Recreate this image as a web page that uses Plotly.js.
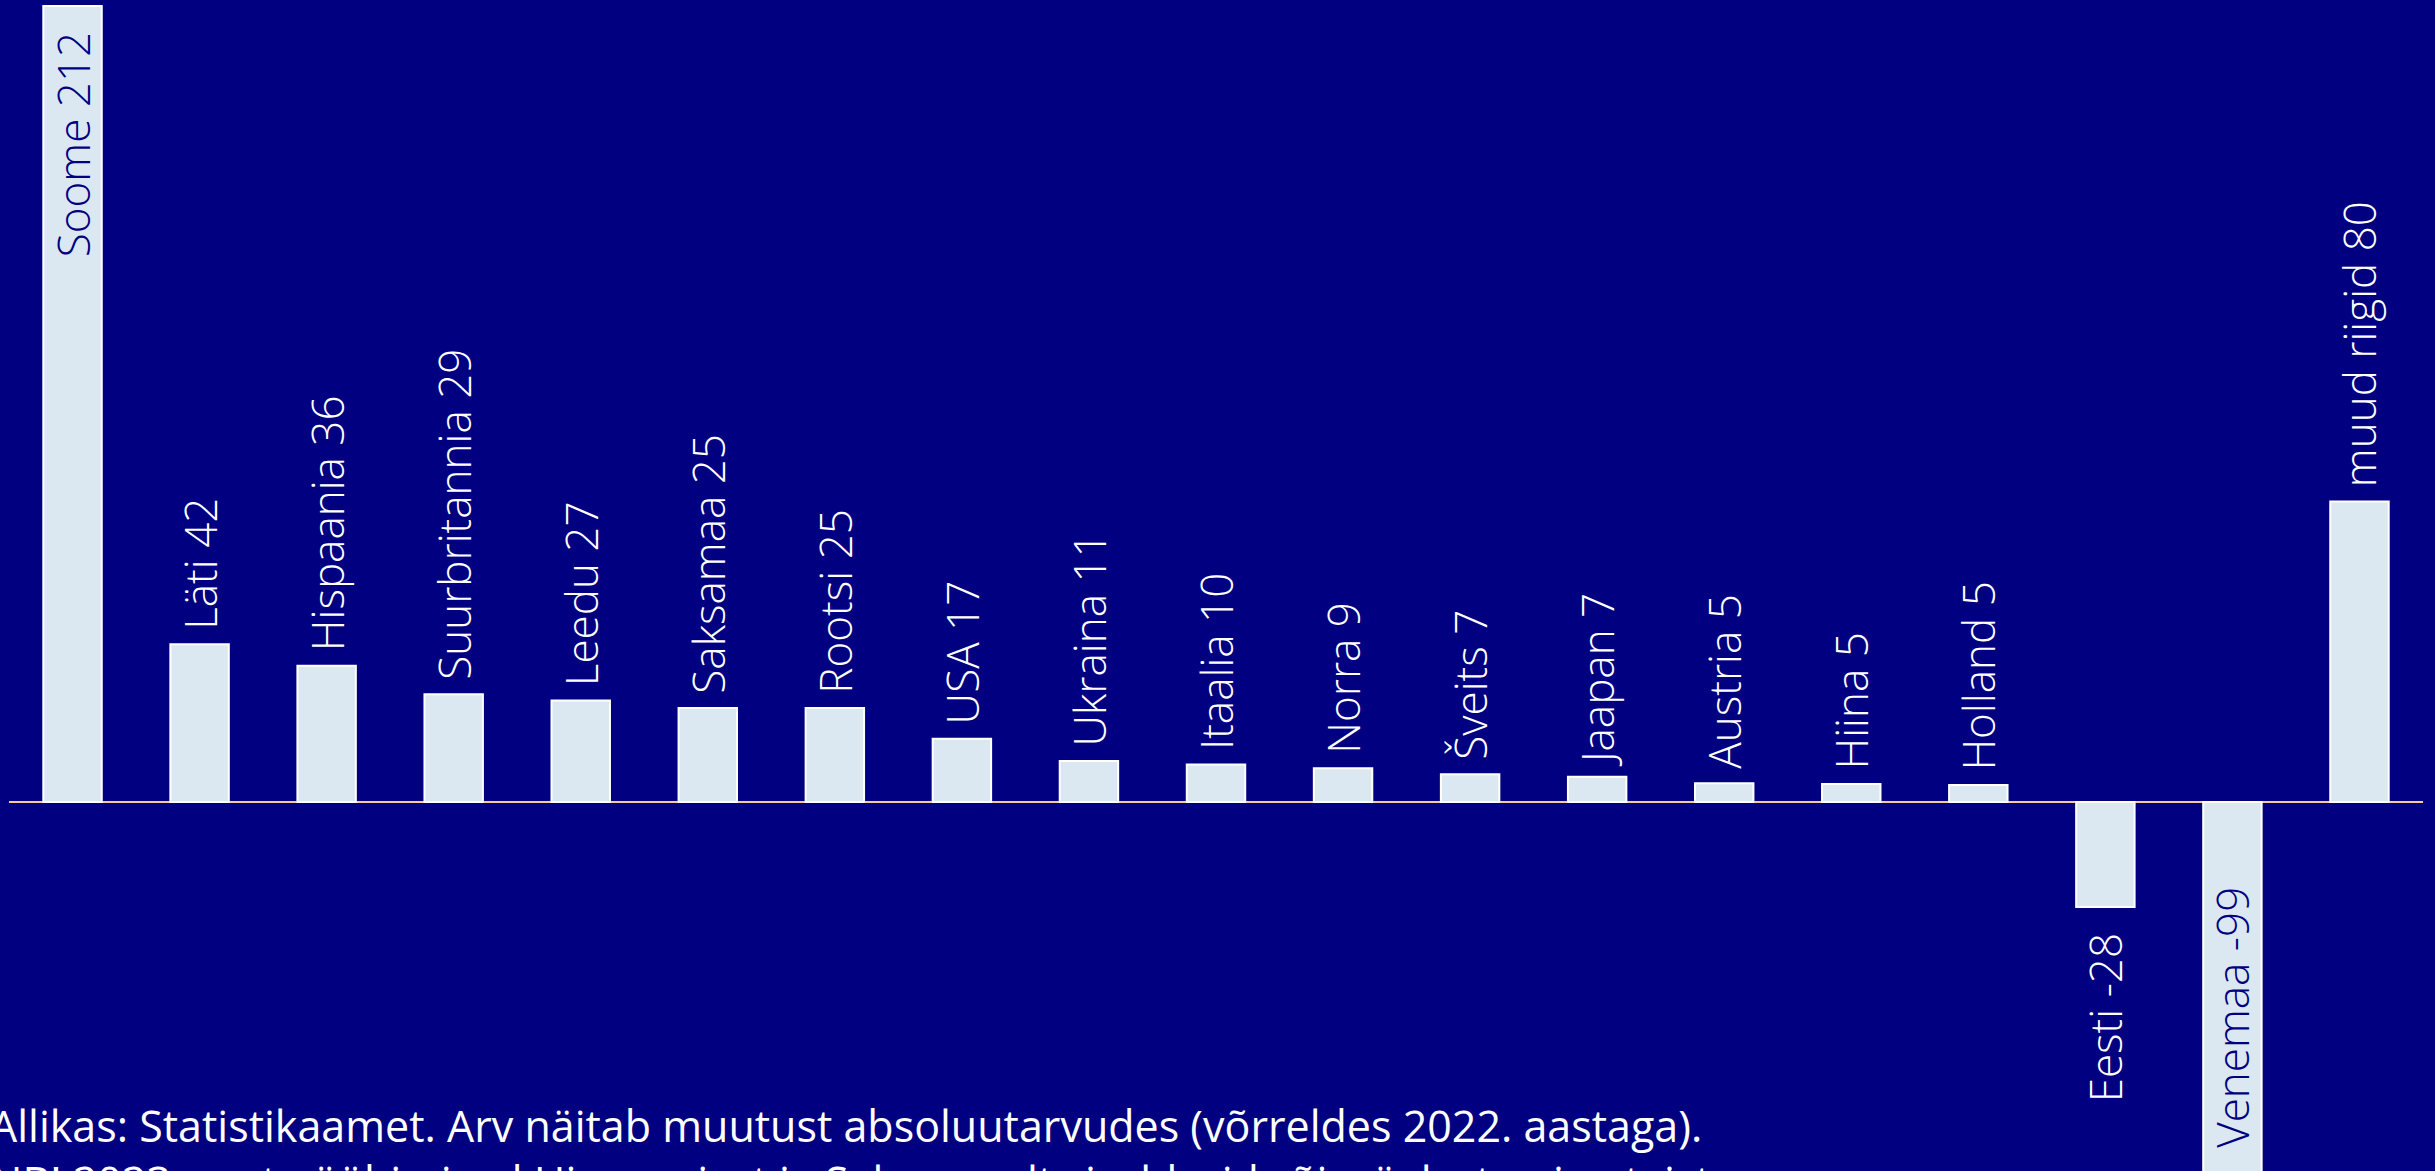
<!DOCTYPE html>
<html>
<head>
<meta charset="utf-8">
<script src="https://cdn.plot.ly/plotly-3.0.1.min.js"></script>
<style>
  html, body { margin: 0; padding: 0; background: #000080; overflow: hidden; }
  #chart { width: 2435px; height: 1180px; }
</style>
</head>
<body>
<div id="chart"></div>
<script>
// Data
const countries = ['Soome','Läti','Hispaania','Suurbritannia','Leedu','Saksamaa','Rootsi','USA','Ukraina','Itaalia','Norra','Šveits','Jaapan','Austria','Hiina','Holland','Eesti','Venemaa','muud riigid'];
const changes = [212, 42, 36.3, 28.7, 27, 25, 25, 16.8, 10.9, 10, 9, 7.4, 6.7, 5, 4.8, 4.5, -28, -99, 80];
const insideLabelled = ['Soome', 'Venemaa'];
const footnote = 'Allikas: Statistikaamet. Arv näitab muutust absoluutarvudes (võrreldes 2022. aastaga).<br>NB! 2023. aasta ööbimised Hispaaniast ja Saksamaalt sisaldasid sõjaväelaste ning teiste';

const NAVY = '#000080';
const SP = '\u00A0';

const labels = countries.map((c, i) => {
  const v = changes[i];
  const base = c + ' ' + Math.round(v);
  const inside = insideLabelled.includes(c);
  if (v >= 0) return inside ? base + SP.repeat(2) : SP + base;
  return inside ? SP.repeat(2) + base : base + SP.repeat(2);
});
const positions = countries.map(c => insideLabelled.includes(c) ? 'inside' : 'outside');

const FONT = 'Open Sans, Inter, sans-serif';

const trace = {
  type: 'bar',
  x: countries,
  y: changes,
  text: labels,
  textposition: positions,
  textangle: -90,
  insidetextanchor: 'end',
  constraintext: 'none',
  cliponaxis: false,
  textfont: { family: FONT, size: 44, weight: 300 },
  insidetextfont: { family: FONT, size: 44, color: NAVY, weight: 300 },
  outsidetextfont: { family: FONT, size: 44, color: '#ffffff', weight: 300 },
  marker: { color: '#dbe8f1', line: { color: '#ffffff', width: 2 } },
  hoverinfo: 'none'
};

const layout = {
  width: 2435,
  height: 1180,
  margin: { l: 9, r: 12, t: 0, b: 0, pad: 0 },
  paper_bgcolor: NAVY,
  plot_bgcolor: NAVY,
  showlegend: false,
  bargap: 0.54,
  xaxis: {
    type: 'category',
    range: [-0.5, 18.5],
    showticklabels: false,
    showgrid: false,
    zeroline: false,
    showline: false,
    ticks: ''
  },
  yaxis: {
    range: [-100.7, 213.6],
    showticklabels: false,
    showgrid: false,
    zeroline: true,
    zerolinecolor: '#f9c9a0',
    zerolinewidth: 2,
    showline: false,
    ticks: ''
  },
  annotations: [{
    xref: 'paper', yref: 'paper',
    x: -21 / 2414, y: 1 - 1094 / 1180,
    xanchor: 'left', yanchor: 'top', align: 'left',
    showarrow: false,
    text: footnote,
    font: { family: 'Open Sans, sans-serif', size: 43, color: '#ffffff' }
  }]
};

Plotly.newPlot('chart', [trace], layout, { displayModeBar: false, staticPlot: true });
</script>
</body>
</html>
